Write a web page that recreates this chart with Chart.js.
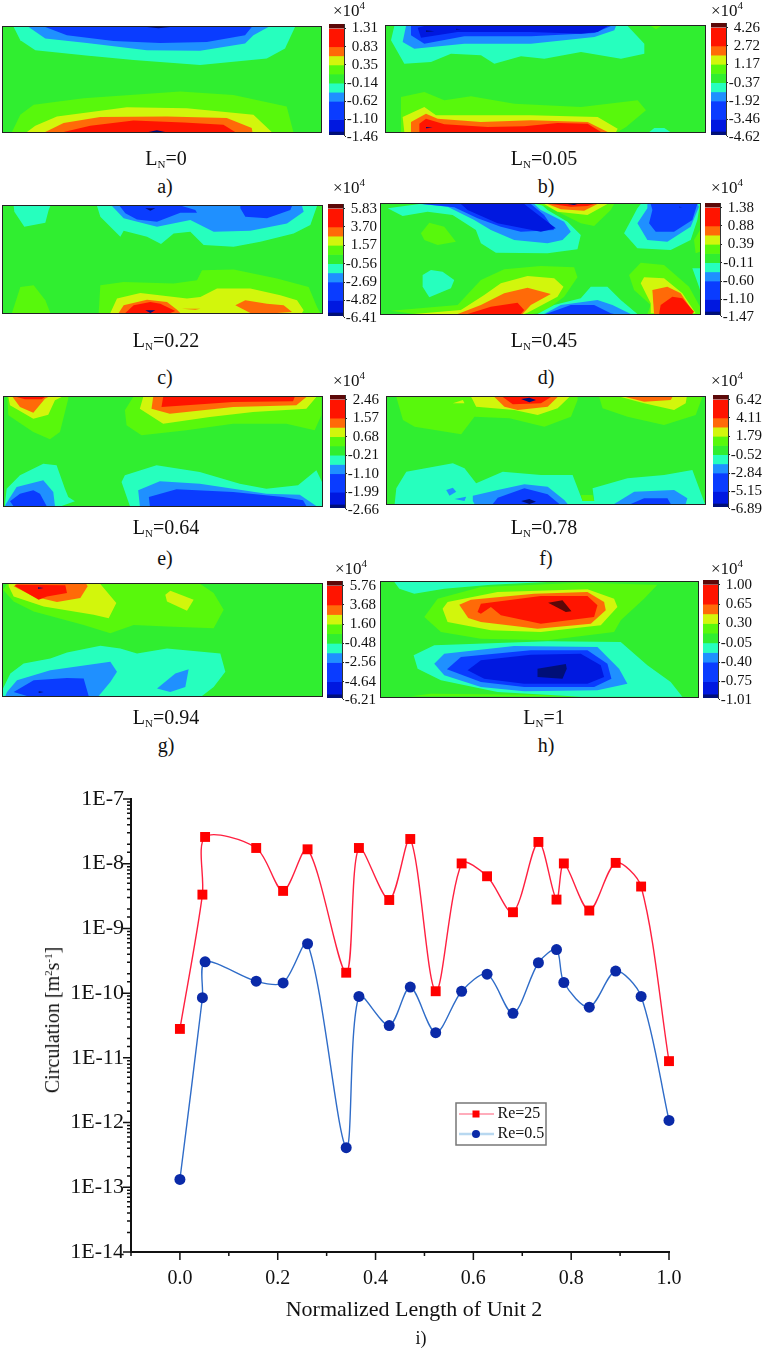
<!DOCTYPE html>
<html>
<head>
<meta charset="utf-8">
<title>Circulation along Unit 2</title>
<script src="https://cdn.jsdelivr.net/npm/chart.js@4/dist/chart.umd.min.js"></script>
<style>
  body { margin: 0; background: #fff; font-family: "Liberation Serif", serif; color: #111; }
  #page { position: relative; width: 762px; height: 1350px; overflow: hidden; }
  canvas { position: absolute; display: block; }
  canvas.field { background: #30ee30; outline: 1.5px solid #222; }
  .txt { position: absolute; white-space: nowrap; transform: translate(-50%, -50%); font-size: 20px; line-height: 1; }
  .txt sub { font-size: 11px; line-height: 0; vertical-align: -3px; }
  .txt sup { font-size: 11px; line-height: 0; vertical-align: 7px; }
  .exp { font-size: 17px; }
  .rot { transform: translate(-50%, -50%) rotate(-90deg); }
</style>
</head>
<body>
<div id="page"></div>
<script>
// Line chart data
const normalizedLength = [0, 0.046, 0.0515, 0.156, 0.211, 0.261, 0.34, 0.366, 0.428, 0.471, 0.523, 0.576, 0.628, 0.681, 0.733, 0.77, 0.785, 0.837, 0.891, 0.943, 1];
const circulationRe25 = [2.8e-11, 3.33e-9, 2.59e-8, 1.75e-8, 3.8e-9, 1.67e-8, 2.07e-10, 1.75e-8, 2.75e-9, 2.41e-8, 1.07e-10, 1.01e-8, 6.4e-9, 1.78e-9, 2.17e-8, 2.79e-9, 1.01e-8, 1.89e-9, 1.03e-8, 4.44e-9, 8.9e-12];
const circulationRe05 = [1.32e-13, 8.5e-11, 3.05e-10, 1.53e-10, 1.44e-10, 5.8e-10, 4.1e-13, 8.9e-11, 3.16e-11, 1.24e-10, 2.45e-11, 1.07e-10, 1.96e-10, 4.87e-11, 2.95e-10, 4.72e-10, 1.46e-10, 6.08e-11, 2.19e-10, 8.9e-11, 1.08e-12];
const seriesNames = ["Re=25", "Re=0.5"];
const xTicks = [-0.1, 0, 0.1, 0.2, 0.3, 0.4, 0.5, 0.6, 0.7, 0.8, 0.9, 1];

// Colour bar labels per panel
const barLabelsA = ["1.31", "0.83", "0.35", "-0.14", "-0.62", "-1.10", "-1.46"];
const barLabelsB = ["4.26", "2.72", "1.17", "-0.37", "-1.92", "-3.46", "-4.62"];
const barLabelsC = ["5.83", "3.70", "1.57", "-0.56", "-2.69", "-4.82", "-6.41"];
const barLabelsD = ["1.38", "0.88", "0.39", "-0.11", "-0.60", "-1.10", "-1.47"];
const barLabelsE = ["2.46", "1.57", "0.68", "-0.21", "-1.10", "-1.99", "-2.66"];
const barLabelsF = ["6.42", "4.11", "1.79", "-0.52", "-2.84", "-5.15", "-6.89"];
const barLabelsG = ["5.76", "3.68", "1.60", "-0.48", "-2.56", "-4.64", "-6.21"];
const barLabelsH = ["1.00", "0.65", "0.30", "-0.05", "-0.40", "-0.75", "-1.01"];

const bandColors = {
  maroon: "#5c0808", red: "#ff1400", orange: "#ff6a08", yellow: "#d2f60c", lime: "#58f80c",
  aqua: "#26ffbe", sky: "#1f90ff", blue: "#0a3cff", deep: "#0018e0", navy: "#000f78"
};
// Colour bar bands, top to bottom: band, from level, to level
const barBands = [["maroon", -0.5, 0], ["red", 0, 2], ["orange", 2, 3], ["yellow", 3, 4], ["lime", 4, 5], ["#30ee30", 5, 6], ["aqua", 6, 7], ["sky", 7, 8], ["blue", 8, 10], ["deep", 10, 11.3], ["navy", 11.3, 11.7]];
const barTickLevels = [0, 2, 4, 6, 8, 10, 11.9];

// Contour bands, painted in list order: band, x,y outline
const regionsA = [
  ["aqua", [40,80, 60,120, 105,150, 250,165, 400,180, 600,195, 800,175, 855,145, 885,80]],
  ["sky", [85,80, 135,115, 260,128, 440,150, 600,152, 735,130, 760,105, 805,80]],
  ["blue", [135,80, 200,105, 340,122, 480,128, 620,125, 735,105, 755,80]],
  ["navy", [440,80, 475,84, 510,80]],
  ["lime", [35,397, 60,345, 100,315, 250,295, 540,275, 700,285, 860,320, 880,397]],
  ["yellow", [80,397, 105,378, 170,350, 380,322, 560,325, 760,345, 815,397]],
  ["orange", [135,397, 190,370, 300,352, 500,350, 680,355, 755,385, 757,397]],
  ["red", [190,397, 270,378, 400,362, 550,368, 670,375, 705,397]],
  ["navy", [445,397, 470,392, 495,397]]
];
const regionsB = [
  ["aqua", [40,77, 30,120, 70,190, 150,185, 210,160, 300,165, 340,190, 420,168, 490,175, 600,155, 720,175, 790,160, 790,130, 740,77]],
  ["sky", [75,77, 65,125, 100,145, 250,130, 450,130, 640,110, 700,90, 705,77]],
  ["blue", [90,77, 90,105, 130,130, 250,108, 450,108, 640,98, 690,77]],
  ["deep", [110,82, 120,112, 230,95, 450,95, 600,100, 650,95, 680,77, 130,77]],
  ["navy", [135,90, 160,93, 135,95]],
  ["navy", [225,85, 240,87, 225,88]],
  ["lime", [810,77, 825,87, 840,77]],
  ["aqua", [805,395, 820,383, 850,383, 868,395]],
  ["lime", [60,395, 60,290, 130,275, 190,300, 270,288, 400,310, 600,320, 770,300, 795,330, 735,380, 710,395]],
  ["yellow", [70,395, 65,350, 130,320, 165,345, 300,345, 450,345, 650,350, 710,385, 705,395]],
  ["orange", [90,395, 90,365, 135,340, 170,355, 300,365, 450,360, 620,365, 680,395]],
  ["red", [115,395, 115,370, 135,355, 190,372, 320,380, 430,378, 530,368, 620,370, 660,395]],
  ["navy", [135,380, 155,382, 135,384]]
];
const regionsC = [
  ["aqua", [40,48, 42,65, 72,110, 135,98, 145,60, 150,48]],
  ["aqua", [290,48, 300,80, 360,140, 370,122, 440,140, 482,162, 520,130, 570,125, 610,165, 700,170, 780,155, 880,130, 930,105, 950,48]],
  ["sky", [335,48, 370,85, 470,110, 570,90, 640,125, 750,122, 860,100, 910,65, 905,48]],
  ["blue", [358,48, 375,70, 410,88, 470,95, 540,68, 590,68, 585,60, 545,48]],
  ["blue", [720,48, 720,55, 735,80, 800,85, 870,60, 875,48]],
  ["navy", [435,55, 465,55, 450,62]],
  ["lime", [35,368, 60,290, 100,285, 135,330, 150,368]],
  ["lime", [295,368, 300,285, 370,275, 520,280, 590,270, 605,240, 700,238, 830,265, 925,290, 950,350, 960,368]],
  ["yellow", [330,368, 350,325, 420,308, 560,325, 600,320, 650,295, 750,295, 840,315, 890,330, 910,360, 905,368]],
  ["orange", [355,368, 370,345, 440,328, 500,335, 530,358, 540,368]],
  ["orange", [705,345, 735,330, 800,340, 850,345, 875,365, 830,368, 750,368]],
  ["orange", [545,355, 600,355, 585,358]],
  ["red", [375,368, 400,345, 450,335, 480,340, 525,362, 510,368]],
  ["navy", [435,360, 465,360, 450,368]]
];
const regionsD = [
  ["aqua", [20,55, 65,78, 140,65, 215,75, 285,120, 300,160, 345,188, 500,190, 590,178, 600,135, 560,95, 500,60, 480,42, 115,42]],
  ["sky", [120,42, 200,50, 280,90, 330,120, 400,150, 500,160, 545,150, 570,125, 550,95, 480,60, 460,42]],
  ["blue", [125,42, 220,52, 290,85, 360,110, 420,125, 520,120, 490,75, 450,42]],
  ["deep", [240,42, 260,60, 350,100, 480,125, 525,115, 460,65, 430,42]],
  ["lime", [465,42, 500,50, 600,100, 640,108, 690,60, 700,42]],
  ["yellow", [490,42, 530,65, 620,75, 665,50, 680,42]],
  ["orange", [500,42, 540,58, 610,62, 650,42]],
  ["red", [510,42, 570,50, 620,48, 640,42]],
  ["navy", [560,42, 580,45, 590,42]],
  ["aqua", [780,42, 770,55, 730,130, 770,175, 870,180, 930,150, 950,90, 958,42]],
  ["sky", [800,42, 800,55, 770,100, 800,150, 860,155, 930,110, 955,50, 950,42]],
  ["blue", [810,42, 815,60, 805,100, 825,125, 880,125, 935,90, 950,42]],
  ["navy", [895,50, 905,52, 895,52]],
  ["lime", [120,130, 145,98, 190,110, 225,155, 170,165, 130,150]],
  ["aqua", [125,255, 150,240, 185,245, 220,270, 210,295, 145,322, 125,290]],
  ["lime", [958,120, 940,150, 945,190, 958,185]],
  ["aqua", [935,235, 955,290, 958,300, 958,235]],
  ["lime", [30,362, 230,345, 300,270, 370,238, 480,228, 580,232, 590,262, 550,320, 490,365, 455,372, 100,372]],
  ["yellow", [100,372, 240,360, 310,315, 360,280, 440,258, 520,265, 548,290, 530,320, 440,368, 430,372]],
  ["orange", [230,372, 240,368, 300,345, 370,310, 440,293, 510,312, 450,345, 425,372]],
  ["red", [260,372, 330,350, 410,338, 430,360, 420,372]],
  ["aqua", [470,372, 520,345, 600,325, 630,290, 680,290, 720,330, 770,372]],
  ["sky", [490,372, 540,345, 650,330, 695,345, 750,372]],
  ["blue", [495,372, 570,345, 640,345, 690,370, 700,372]],
  ["lime", [745,255, 780,218, 850,225, 925,290, 958,350, 958,372, 800,372, 810,345, 760,300]],
  ["yellow", [780,280, 790,262, 850,265, 905,310, 945,370, 810,370, 810,340]],
  ["orange", [815,300, 860,290, 900,310, 935,362, 930,372, 820,372]],
  ["red", [840,345, 875,320, 905,325, 940,365, 935,372, 835,372]]
];
const regionsE = [
  ["lime", [22,65, 25,120, 100,170, 150,192, 180,170, 205,70, 205,65]],
  ["yellow", [25,65, 30,90, 100,130, 145,118, 165,75, 185,65]],
  ["orange", [38,65, 60,95, 100,112, 135,70, 145,65]],
  ["red", [50,65, 75,72, 125,72, 135,65]],
  ["lime", [400,65, 375,105, 380,150, 425,180, 560,165, 700,145, 860,145, 945,165, 965,120, 965,65]],
  ["yellow", [430,65, 420,100, 490,145, 630,125, 760,110, 920,100, 950,65]],
  ["orange", [460,65, 455,100, 510,115, 700,95, 890,90, 920,65]],
  ["red", [490,65, 485,95, 700,80, 880,78, 885,65]],
  ["aqua", [15,385, 20,340, 60,300, 130,265, 170,270, 195,340, 205,365, 225,378, 185,392, 15,392]],
  ["sky", [18,385, 50,335, 130,315, 160,350, 165,392, 15,392]],
  ["blue", [30,378, 60,355, 100,345, 120,355, 140,392, 40,392]],
  ["aqua", [390,392, 365,320, 375,300, 470,270, 600,290, 720,325, 800,340, 895,330, 950,285, 967,320, 967,392]],
  ["sky", [420,392, 415,345, 480,318, 600,325, 800,355, 900,358, 950,392]],
  ["blue", [450,392, 447,365, 530,342, 700,350, 850,365, 910,375, 920,392]]
];
const regionsF = [
  ["lime", [45,66, 65,135, 100,155, 240,178, 280,125, 385,130, 490,155, 570,125, 590,75, 590,66]],
  ["lime", [655,66, 665,100, 740,125, 850,150, 945,120, 965,66]],
  ["yellow", [270,66, 275,75, 285,95, 400,105, 470,120, 530,100, 565,66]],
  ["yellow", [720,66, 790,85, 880,105, 915,85, 918,66]],
  ["yellow", [215,85, 245,75, 250,85]],
  ["orange", [340,66, 370,95, 410,105, 500,95, 530,66]],
  ["orange", [735,66, 790,80, 870,75, 875,66]],
  ["red", [365,66, 395,88, 480,85, 510,66]],
  ["navy", [420,72, 445,68, 465,75, 445,82]],
  ["aqua", [40,387, 45,340, 75,290, 215,265, 250,280, 285,325, 365,290, 480,300, 575,300, 605,378, 640,378, 635,340, 740,310, 850,300, 935,285, 973,387]],
  ["lime", [605,378, 600,360, 635,360, 640,378]],
  ["sky", [275,378, 275,362, 350,345, 430,328, 500,335, 550,375, 560,387, 280,387]],
  ["sky", [700,387, 760,350, 880,345, 920,370, 915,387]],
  ["sky", [195,345, 215,338, 225,350, 205,362]],
  ["sky", [220,372, 255,365, 250,378]],
  ["blue", [335,387, 350,368, 430,340, 500,358, 535,387]],
  ["blue", [750,387, 790,370, 860,370, 870,387]],
  ["navy", [420,378, 445,372, 465,380, 445,387]]
];
const regionsG = [
  ["lime", [8,75, 40,110, 100,140, 250,180, 330,205, 400,180, 500,185, 640,190, 670,135, 640,85, 600,58, 20,58]],
  ["yellow", [25,65, 40,95, 130,125, 280,150, 325,160, 348,115, 300,58, 25,58]],
  ["yellow", [495,90, 510,78, 580,105, 560,138, 500,110]],
  ["orange", [40,65, 100,95, 170,112, 240,100, 262,65, 258,58, 50,58]],
  ["red", [45,65, 115,105, 140,95, 200,85, 195,62, 45,60]],
  ["navy", [113,68, 130,70, 115,72]],
  ["aqua", [8,370, 30,325, 70,295, 150,280, 200,262, 300,242, 360,250, 410,265, 500,250, 660,265, 675,320, 640,365, 605,392, 8,392]],
  ["sky", [20,380, 50,345, 150,315, 330,290, 350,320, 330,350, 295,392, 15,392]],
  ["sky", [470,370, 525,325, 565,312, 555,365, 510,380]],
  ["blue", [40,380, 100,345, 200,338, 250,340, 265,392, 80,392]],
  ["navy", [115,378, 130,380, 115,383]]
];
const regionsH = [
  ["aqua", [40,50, 55,70, 100,85, 190,70, 330,58, 500,50]],
  ["lime", [130,155, 170,100, 300,65, 600,52, 830,58, 790,100, 720,165, 700,200, 500,225, 300,220, 180,200]],
  ["yellow", [185,130, 200,110, 350,80, 620,72, 700,100, 710,125, 660,180, 480,200, 330,195, 200,170]],
  ["orange", [235,118, 270,103, 460,85, 620,80, 670,110, 675,135, 630,175, 470,190, 300,170, 262,158]],
  ["red", [290,140, 300,115, 480,92, 620,92, 650,120, 640,155, 480,175, 360,150, 330,125, 300,145]],
  ["maroon", [502,112, 545,105, 572,138, 555,140]],
  ["lime", [90,393, 150,385, 450,388, 600,393]],
  ["aqua", [98,270, 160,240, 500,228, 720,230, 800,300, 870,350, 905,394, 600,394, 350,380, 180,345, 110,310]],
  ["sky", [160,295, 190,265, 400,242, 650,245, 715,310, 740,355, 650,375, 430,378, 300,365, 190,330]],
  ["blue", [198,312, 240,275, 450,255, 620,255, 680,295, 692,340, 640,365, 430,365, 300,350]],
  ["deep", [260,315, 300,285, 450,268, 600,265, 660,300, 670,335, 620,355, 430,355, 310,340]],
  ["navy", [470,310, 555,296, 558,310, 545,340, 470,335]]
];

// Panel placement on the page
const panels = [
  { regions: regionsA, labels: barLabelsA, name: "0", tag: "a)", box: [3, 27, 318, 105], range: [8, 963, 80, 397], bar: [329, 24, 111], exp: [349, 10], cap: [166, 158], tagAt: [165, 186] },
  { regions: regionsB, labels: barLabelsB, name: "0.05", tag: "b)", box: [386, 26, 319, 106], range: [15, 972, 77, 395], bar: [711, 23, 112], exp: [727, 10], cap: [544, 158], tagAt: [546, 186] },
  { regions: regionsC, labels: barLabelsC, name: "0.22", tag: "c)", box: [3, 206, 319, 107], range: [8, 965, 48, 368], bar: [328, 204, 112], exp: [349, 187], cap: [166, 340], tagAt: [165, 377] },
  { regions: regionsD, labels: barLabelsD, name: "0.45", tag: "d)", box: [381, 204, 319, 110], range: [0, 958, 42, 372], bar: [705, 203, 112], exp: [727, 187], cap: [544, 340], tagAt: [546, 377] },
  { regions: regionsE, labels: barLabelsE, name: "0.64", tag: "e)", box: [4, 397, 318, 109], range: [12, 967, 65, 392], bar: [330, 395, 113], exp: [349, 380], cap: [166, 527], tagAt: [165, 558] },
  { regions: regionsF, labels: barLabelsF, name: "0.78", tag: "f)", box: [387, 397, 318, 107], range: [17, 973, 66, 387], bar: [713, 395, 112], exp: [727, 380], cap: [544, 527], tagAt: [546, 558] },
  { regions: regionsG, labels: barLabelsG, name: "0.94", tag: "g)", box: [3, 584, 319, 112], range: [8, 965, 58, 392], bar: [327, 581, 117], exp: [351, 568], cap: [166, 717], tagAt: [166, 745] },
  { regions: regionsH, labels: barLabelsH, name: "1", tag: "h)", box: [381, 582, 317, 115], range: [0, 952, 50, 395], bar: [703, 580, 118], exp: [727, 568], cap: [544, 717], tagAt: [546, 745] }
];

const page = document.getElementById("page");

function addCanvas(left, top, width, height, cls) {
  const c = document.createElement("canvas");
  c.width = width;
  c.height = height;
  c.style.left = left + "px";
  c.style.top = top + "px";
  if (cls) c.className = cls;
  page.appendChild(c);
  return c;
}

function addText(html, x, y, cls) {
  const d = document.createElement("div");
  d.className = "txt" + (cls ? " " + cls : "");
  d.style.left = x + "px";
  d.style.top = y + "px";
  d.innerHTML = html;
  page.appendChild(d);
  return d;
}

const bandColor = (b) => bandColors[b] || b;
const font = (size) => ({ family: "'Liberation Serif', serif", size: size });

// Contour field: every band is a closed polygon filled by the line element
function drawField(p) {
  const canvas = addCanvas(p.box[0], p.box[1], p.box[2], p.box[3], "field");
  const datasets = p.regions.map((r, i) => {
    const pts = [];
    for (let k = 0; k < r[1].length; k += 2) pts.push({ x: r[1][k], y: r[1][k + 1] });
    pts.push(pts[0]);
    return {
      data: pts, showLine: true, fill: "shape", tension: 0,
      backgroundColor: bandColors[r[0]], borderWidth: 0, pointRadius: 0,
      order: p.regions.length - i
    };
  });
  new Chart(canvas, {
    type: "scatter",
    data: { datasets },
    options: {
      responsive: false, animation: false, events: [],
      plugins: { legend: { display: false }, tooltip: { enabled: false } },
      scales: {
        x: { type: "linear", display: false, min: p.range[0], max: p.range[1] },
        y: { type: "linear", display: false, reverse: true, min: p.range[2], max: p.range[3] }
      }
    }
  });
}

// Colour bar: floating bars on a level axis, labels on the right
function drawBar(p) {
  const pad = 9, barWidth = 15, labelWidth = 34;
  const canvas = addCanvas(p.bar[0], p.bar[1] - pad, barWidth + labelWidth, p.bar[2] + pad * 2);
  new Chart(canvas, {
    type: "bar",
    data: {
      labels: ["level"],
      datasets: barBands.map((b) => ({
        data: [[b[1], b[2]]], backgroundColor: bandColor(b[0]),
        grouped: false, barPercentage: 1, categoryPercentage: 1
      }))
    },
    options: {
      responsive: false, animation: false, events: [],
      layout: { padding: { top: pad, bottom: pad } },
      plugins: { legend: { display: false }, tooltip: { enabled: false } },
      scales: {
        x: { display: false },
        y: {
          position: "right", reverse: true, min: -0.5, max: 11.7,
          afterFit: (s) => { s.width = labelWidth; s.paddingTop = 0; s.paddingBottom = 0; },
          afterBuildTicks: (s) => { s.ticks = barTickLevels.map((v) => ({ value: v })); },
          grid: { drawOnChartArea: false, tickLength: 2, tickColor: "#222" },
          border: { color: "#333", width: 1 },
          ticks: {
            autoSkip: false, padding: 3, crossAlign: "far", color: "#111", font: font(15),
            callback: (v, i) => p.labels[i]
          }
        }
      }
    }
  });
}

panels.forEach((p) => {
  drawField(p);
  drawBar(p);
  addText("&times;10<sup>4</sup>", p.exp[0], p.exp[1], "exp");
  addText("L<sub>N</sub>=" + p.name, p.cap[0], p.cap[1]);
  addText(p.tag, p.tagAt[0], p.tagAt[1]);
});

// Tick marks with two lengths, the library only has one
const logTicksPlugin = {
  id: "twoLengthTicks",
  afterDraw(chart) {
    const { ctx, scales: { x, y } } = chart;
    ctx.save();
    ctx.strokeStyle = "#111";
    ctx.lineWidth = 1.5;
    ctx.beginPath();
    y.ticks.forEach((t) => {
      const exp = Math.log10(t.value);
      const len = Math.abs(exp - Math.round(exp)) < 1e-6 ? 8 : 4;
      const py = y.getPixelForValue(t.value);
      ctx.moveTo(x.left, py);
      ctx.lineTo(x.left - len, py);
    });
    x.ticks.forEach((t) => {
      const len = Math.round(t.value * 10) % 2 === 0 ? 8 : 4;
      const px = x.getPixelForValue(t.value);
      ctx.moveTo(px, y.bottom);
      ctx.lineTo(px, y.bottom + len);
    });
    ctx.stroke();
    ctx.restore();
  }
};

// Legend box inside the plot, with line and marker samples
const legendBoxPlugin = {
  id: "legendBox",
  afterDraw(chart) {
    const { ctx } = chart;
    ctx.save();
    ctx.fillStyle = "#fff";
    ctx.strokeStyle = "#777";
    ctx.lineWidth = 1.5;
    ctx.fillRect(456, 333, 90, 42);
    ctx.strokeRect(456, 333, 90, 42);
    ctx.font = "16px 'Liberation Serif', serif";
    ctx.textBaseline = "middle";
    chart.data.datasets.forEach((ds, i) => {
      const y = i === 0 ? 344 : 364;
      ctx.strokeStyle = i === 0 ? "#ff5a78" : "#b8d8f0";
      ctx.lineWidth = i === 0 ? 1.2 : 2.5;
      ctx.beginPath();
      ctx.moveTo(459, y);
      ctx.lineTo(494, y);
      ctx.stroke();
      ctx.fillStyle = ds.pointBackgroundColor;
      if (i === 0) {
        ctx.fillRect(472.5, y - 3.5, 7, 7);
      } else {
        ctx.beginPath();
        ctx.arc(476, y, 4, 0, Math.PI * 2);
        ctx.fill();
      }
      ctx.fillStyle = "#111";
      ctx.fillText(ds.label, 497.5, y);
    });
    ctx.restore();
  }
};

const pointsOf = (ys) => ys.map((v, i) => ({ x: normalizedLength[i], y: v }));

new Chart(addCanvas(0, 770, 762, 530), {
  type: "scatter",
  data: {
    datasets: [
      {
        label: seriesNames[0], data: pointsOf(circulationRe25), showLine: true, tension: 0.3, clip: false,
        borderColor: "#ff2040", borderWidth: 1.4, pointStyle: "rect", pointRadius: 7,
        pointBackgroundColor: "#ff0000", pointBorderColor: "#ff0000", pointBorderWidth: 0
      },
      {
        label: seriesNames[1], data: pointsOf(circulationRe05), showLine: true, tension: 0.3, clip: false,
        borderColor: "#2f6cc8", borderWidth: 1.4, pointStyle: "circle", pointRadius: 5.5,
        pointBackgroundColor: "#0a2aa8", pointBorderColor: "#0a2aa8", pointBorderWidth: 0
      }
    ]
  },
  options: {
    responsive: false, animation: false, events: [],
    layout: { padding: { top: 29, right: 93 } },
    plugins: { legend: { display: false }, tooltip: { enabled: false } },
    scales: {
      x: {
        type: "linear", min: -0.1, max: 1,
        afterFit: (s) => { s.height = 48; },
        afterBuildTicks: (s) => { s.ticks = xTicks.map((v) => ({ value: v })); },
        grid: { drawOnChartArea: false, drawTicks: false },
        border: { color: "#111", width: 2 },
        ticks: {
          autoSkip: false, maxRotation: 0, padding: 15, color: "#111", font: font(20),
          callback: (v) => (Math.round(v * 10) % 2 === 0 ? v.toFixed(1) : "")
        }
      },
      y: {
        type: "logarithmic", min: 1e-14, max: 1e-7,
        afterFit: (s) => { s.width = 131; },
        grid: { drawOnChartArea: false, drawTicks: false },
        border: { color: "#111", width: 2 },
        ticks: {
          autoSkip: false, padding: 7, color: "#111", font: font(22),
          callback: (v) => {
            const exp = Math.log10(v);
            return Math.abs(exp - Math.round(exp)) < 1e-6 ? "1E" + Math.round(exp) : "";
          }
        }
      }
    }
  },
  plugins: [logTicksPlugin, legendBoxPlugin]
});

addText("Normalized Length of Unit 2", 414, 1309).style.fontSize = "22px";
addText("i)", 421, 1338).style.fontSize = "18px";
const yTitle = addText("Circulation [m<sup>2</sup>s<sup>-1</sup>]", 52, 1020, "rot");
yTitle.style.fontSize = "20px";
</script>
</body>
</html>
